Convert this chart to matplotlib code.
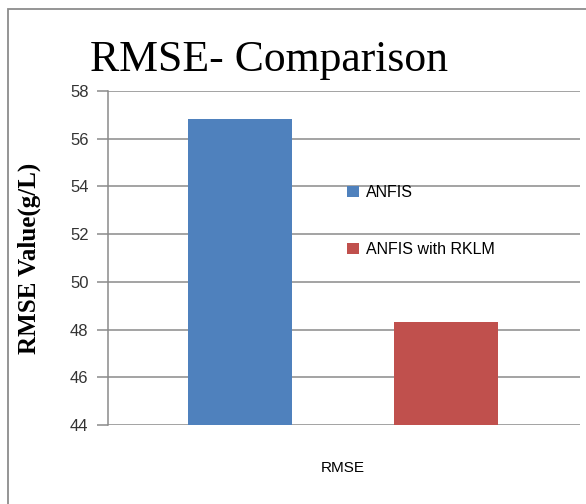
import matplotlib
matplotlib.use('Agg')
from matplotlib import pyplot as plt
from matplotlib.patches import Rectangle

series = ['ANFIS', 'ANFIS with RKLM']
rmse = [56.83, 48.32]
colors = ['#4F81BD', '#C0504D']
yticks = [44, 46, 48, 50, 52, 54, 56, 58]

W, H = 586, 504
fig = plt.figure(figsize=(W / 100, H / 100), dpi=100)
ax = fig.add_axes([108 / W, 1 - 425 / H, (580 - 108) / W, (425 - 91) / H])

# chart border (runs off the right and bottom edges)
fig.patches.append(Rectangle((8 / W, -0.05), 1.0, 1 - 9 / H + 0.05,
                             transform=fig.transFigure, fill=False,
                             edgecolor='#8c8c8c', linewidth=1.3))

for i, (name, val, c) in enumerate(zip(series, rmse, colors)):
    ax.bar(i, val - 44, bottom=44, width=0.505, color=c, label=name,
           zorder=3)

ax.set_ylim(44, 58)
ax.set_xlim(-0.641, 1.65)
ax.set_yticks(yticks)
ax.set_yticklabels([str(t) for t in yticks], fontsize=12,
                   family='Liberation Sans', color='#333333')
ax.set_xticks([])
ax.yaxis.grid(True, color='#8a8a8a', linewidth=1.1, zorder=0)
ax.set_axisbelow(True)
for s in ['top', 'right', 'bottom']:
    ax.spines[s].set_visible(False)
ax.spines['left'].set_color('#8a8a8a')
ax.spines['left'].set_linewidth(1.1)
ax.tick_params(axis='y', length=8, width=1.1, color='#8a8a8a', pad=6)

ax.set_ylabel('RMSE Value(g/L)', fontsize=18, fontweight='bold',
              family='Liberation Serif')
ax.yaxis.set_label_coords(-0.142, 0.5)

fig.text(90 / W, 1 - 60 / H, 'RMSE- Comparison', fontsize=31.5,
         family='Liberation Serif', va='center', ha='left')
fig.text(343 / W, 1 - 468 / H, 'RMSE', fontsize=11,
         family='Liberation Sans', ha='center', va='center')

ax.legend(loc='upper left', bbox_to_anchor=((333 - 108) / 472, (425 - 171) / 334),
          frameon=False, prop={'family': 'Liberation Sans', 'size': 11.5},
          handlelength=0.7, handleheight=0.7, handletextpad=0.45,
          labelspacing=2.6)

fig.savefig('out.png', dpi=100)
